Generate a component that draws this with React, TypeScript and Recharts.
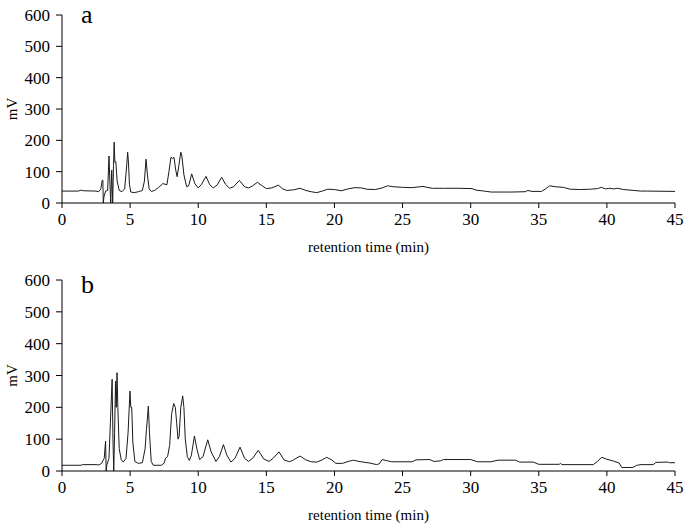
import { LineChart, Line, XAxis, YAxis } from "recharts"

// chromatogram a: retention time (min) and detector signal (mV)
const timeA = [
  0, 1.2, 1.4, 1.6, 2.5, 2.7, 2.85, 2.95, 3.0, 3.03, 3.08, 3.2, 3.35, 3.45, 3.52,
  3.58, 3.65, 3.72, 3.78, 3.83, 3.88, 3.95, 4.05, 4.2, 4.4, 4.6, 4.75, 4.82, 4.88,
  4.95, 5.05, 5.3, 5.6, 5.9, 6.05, 6.17, 6.27, 6.4, 6.55, 6.8, 7.1, 7.4, 7.7, 7.85,
  8.0, 8.12, 8.22, 8.35, 8.45, 8.58, 8.72, 8.8, 8.95, 9.15, 9.3, 9.52, 9.75, 10.0,
  10.25, 10.57, 10.85, 11.1, 11.4, 11.72, 12.0, 12.3, 12.6, 13.02, 13.4, 13.7, 14.0,
  14.34, 14.7, 15.0, 15.4, 15.88, 16.2, 16.5, 17.0, 17.47, 17.9, 18.3, 18.7, 19.1,
  19.5, 20.0, 20.5, 21.0, 21.5, 22.0, 22.37, 23.0, 23.5, 23.9, 24.3, 25.0, 25.7,
  26.5, 26.8, 27.2, 28.0, 29.0, 30.1, 30.4, 31.0, 31.5, 33.0, 34.0, 34.2, 34.5,
  35.2, 35.5, 35.8, 36.2, 36.8, 37.3, 38.0, 38.8, 39.3, 39.6, 39.9, 40.2, 40.5,
  40.8, 41.2, 42.0, 42.5, 43.0, 45.0,
]
const signalA = [
  38, 38, 41, 39, 38, 36, 45, 72, 73, 0, 20, 38, 40, 150, 60,
  0, 105, 0, 120, 194, 130, 132, 70, 40, 36, 45, 120, 162, 130,
  60, 35, 33, 36, 40, 70, 140, 90, 45, 37, 40, 50, 62, 58, 100,
  146, 142, 146, 105, 84, 120, 162, 150, 90, 52, 55, 93, 62, 48,
  60, 85, 58, 48, 58, 82, 60, 47, 52, 72, 52, 48, 55,
  66, 55, 46, 48, 57, 45, 40, 42, 47, 40, 36, 33, 38,
  44, 43, 39, 45, 49, 48, 44, 43, 48, 55, 52, 50, 49,
  53, 50, 47, 47, 47, 46, 41, 38, 35, 35, 36, 40, 37,
  37, 45, 55, 52, 50, 44, 43, 44, 46, 50, 45, 47, 45,
  47, 43, 40, 38, 38, 37,
]

// chromatogram b
const timeB = [
  0, 1.4, 1.5, 2.5, 2.7, 2.9, 3.1, 3.2, 3.24, 3.3, 3.45, 3.55, 3.68, 3.74, 3.8,
  3.86, 3.93, 3.98, 4.04, 4.1, 4.2, 4.35, 4.5, 4.7, 4.85, 4.99, 5.05, 5.12, 5.2,
  5.35, 5.6, 5.9, 6.1, 6.2, 6.34, 6.42, 6.55, 6.7, 7.3, 7.5, 7.6, 7.75, 7.9, 8.05,
  8.2, 8.32, 8.42, 8.52, 8.6, 8.72, 8.86, 8.95, 9.05, 9.2, 9.35, 9.5, 9.72, 9.9,
  10.1, 10.35, 10.7, 10.95, 11.3, 11.55, 11.85, 12.1, 12.4, 12.7, 13.07, 13.4, 13.7,
  14.0, 14.41, 14.8, 15.2, 15.5, 15.93, 16.3, 16.7, 17.0, 17.47, 17.9, 18.3, 18.7,
  19.1, 19.43, 19.8, 20.1, 20.6, 21.0, 21.4, 21.8, 22.1, 22.6, 23.1, 23.3, 23.5,
  23.9, 24.2, 25.7, 26.0, 27.0, 27.3, 27.8, 28.0, 30.0, 30.5, 31.5, 32.0, 33.3,
  33.6, 34.6, 35.0, 36.5, 36.6, 36.7, 39.0, 39.3, 39.62, 40.0, 40.5, 40.9, 41.1,
  41.9, 42.2, 42.5, 43.4, 43.6, 44.5, 44.6, 45.0,
]
const signalB = [
  18, 18, 20, 20, 19, 24, 40, 94, 0, 20, 40, 150, 288, 100, 0,
  120, 282, 200, 309, 200, 70, 35, 28, 40, 120, 251, 200, 200, 90,
  30, 24, 26, 70, 130, 204, 120, 30, 18, 18, 25, 40, 45, 80, 180,
  212, 200, 150, 100, 110, 200, 236, 200, 100, 45, 33, 50, 110, 70,
  36, 45, 98, 60, 30, 45, 83, 50, 28, 40, 75, 40, 30,
  40, 65, 38, 30, 40, 60, 35, 29, 35, 47, 35, 29, 28,
  35, 43, 35, 24, 24, 30, 34, 30, 28, 25, 20, 23, 36,
  32, 29, 29, 35, 36, 30, 32, 36, 36, 29, 29, 34, 34,
  28, 28, 21, 21, 24, 20, 20, 30, 43, 37, 31, 25, 11,
  11, 18, 20, 20, 27, 28, 26, 26,
]

const xTicks = [0, 5, 10, 15, 20, 25, 30, 35, 40, 45]
const yTicks = [0, 100, 200, 300, 400, 500, 600]

const FONT = "'Liberation Serif', 'Times New Roman', serif"
const tickStyle = { fontSize: 17, fill: "#000", fontFamily: FONT }

interface PanelProps {
  times: number[]
  values: number[]
  letter: string
  letterTop: number
  height: number
  top: number
  bottom: number
}

function Panel({ times, values, letter, letterTop, height, top, bottom }: PanelProps) {
  const data = times.map((t, i) => ({ t, mv: values[i] }))
  return (
    <div style={{ position: "relative", width: 685, height }}>
      <LineChart
        width={685}
        height={height}
        data={data}
        margin={{ top, right: 10, bottom, left: 0 }}
      >
        <XAxis
          dataKey="t"
          type="number"
          domain={[0, 45]}
          ticks={xTicks}
          height={49}
          tickSize={5}
          tickMargin={5}
          tick={tickStyle}
          stroke="#000"
          label={{
            value: "retention time (min)",
            position: "insideBottom",
            offset: 0,
            style: { fontSize: 15, fill: "#000", fontFamily: FONT },
          }}
        />
        <YAxis
          type="number"
          domain={[0, 600]}
          ticks={yTicks}
          width={62}
          tickSize={6}
          tickMargin={6}
          tick={tickStyle}
          stroke="#000"
          label={{
            value: "mV",
            angle: -90,
            position: "insideLeft",
            offset: 12,
            style: { fontSize: 15, fill: "#000", fontFamily: FONT, textAnchor: "middle" },
          }}
        />
        <Line
          type="linear"
          dataKey="mv"
          stroke="#1a1a1a"
          strokeWidth={1}
          dot={false}
          isAnimationActive={false}
        />
      </LineChart>
      <div
        style={{
          position: "absolute",
          left: 81,
          top: letterTop,
          fontSize: 26,
          fontFamily: FONT,
          lineHeight: "26px",
        }}
      >
        {letter}
      </div>
    </div>
  )
}

export default function App() {
  return (
    <div
      style={{
        position: "absolute",
        left: 0,
        top: 0,
        width: 685,
        height: 525,
        background: "#fff",
      }}
    >
      <Panel times={timeA} values={signalA} letter="a" letterTop={2} height={262} top={15} bottom={10} />
      <Panel times={timeB} values={signalB} letter="b" letterTop={10} height={263} top={18} bottom={5} />
    </div>
  )
}
